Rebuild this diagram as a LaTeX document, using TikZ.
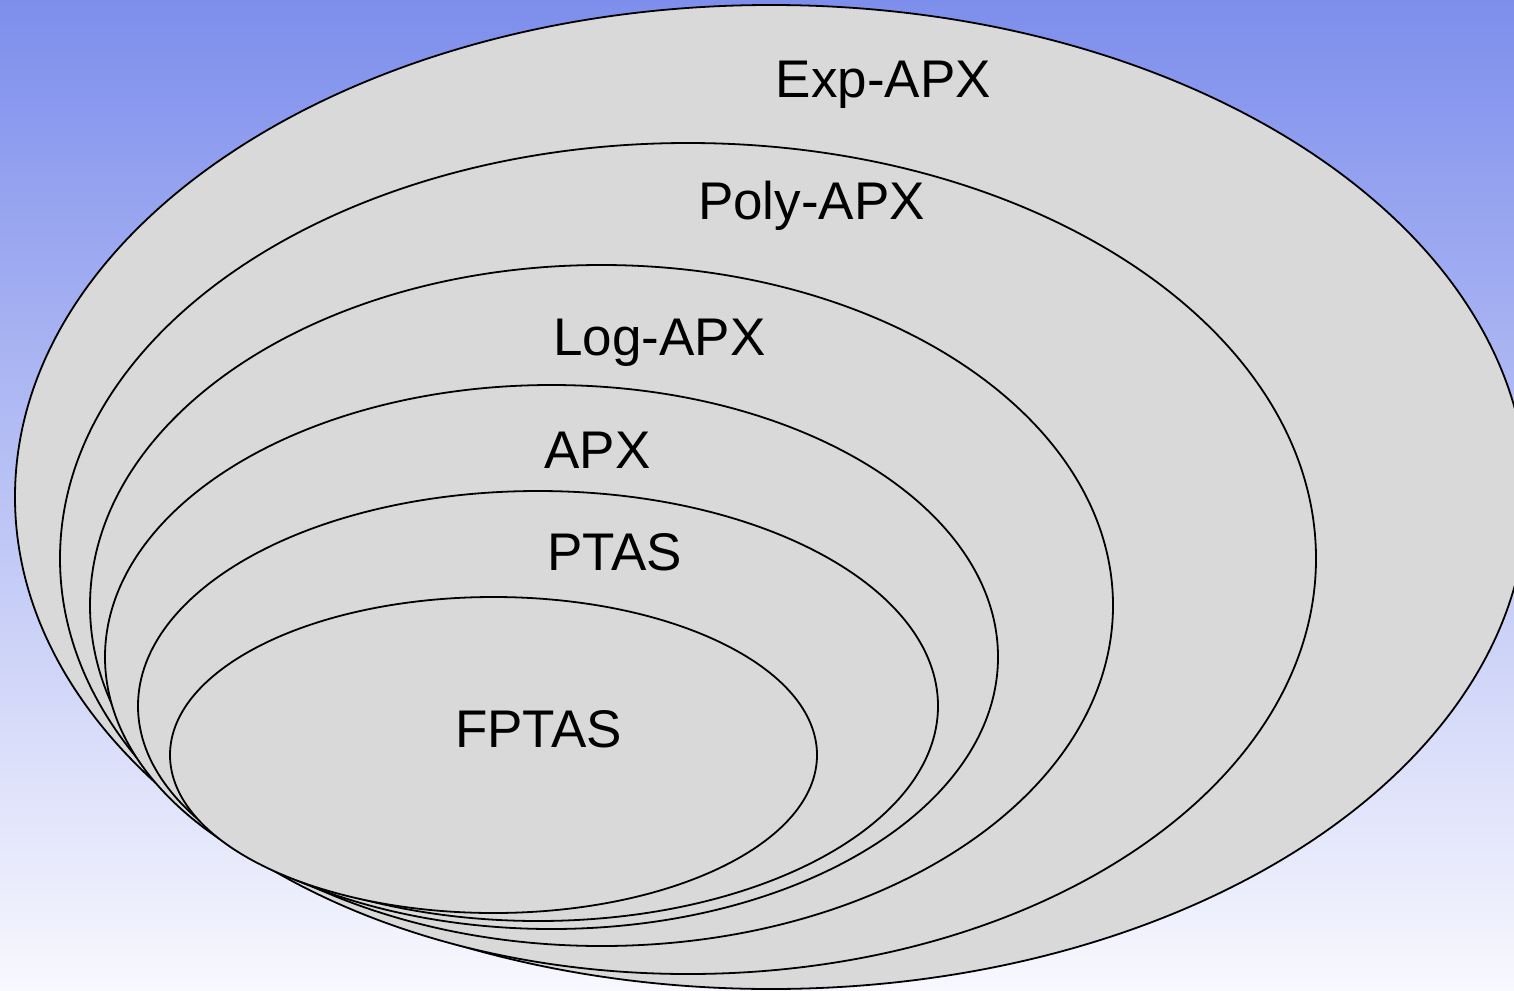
\documentclass[tikz,border=0pt]{standalone}
\usepackage{fontspec}
\setmainfont{Liberation Sans}
\definecolor{bgtop}{RGB}{125,142,236}
\definecolor{bgbot}{RGB}{248,248,254}
\definecolor{setfill}{RGB}{217,217,217}
\tikzset{
  setellipse/.style={draw=black, line width=1.8pt, fill=setfill},
  setlabel/.style={anchor=base, inner sep=0pt, font=\fontsize{53}{60}\selectfont}
}
\begin{document}
\begin{tikzpicture}[x=1pt,y=-1pt]
\useasboundingbox (0,0) rectangle (1514,990);
\shade[top color=bgtop, bottom color=bgbot] (0,0) rectangle (1514,990);
\begin{scope}
\clip (0,0) rectangle (1514,990);
\draw[setellipse] (771,497) ellipse [x radius=756pt, y radius=492pt];
\draw[setellipse] (688,558.5) ellipse [x radius=628pt, y radius=415.5pt];
\draw[setellipse] (601.5,605.5) ellipse [x radius=511.5pt, y radius=340.5pt];
\draw[setellipse] (551.5,657) ellipse [x radius=446.5pt, y radius=272pt];
\draw[setellipse] (538,706) ellipse [x radius=400pt, y radius=215pt];
\draw[setellipse] (493.5,755) ellipse [x radius=323.5pt, y radius=158pt];
\end{scope}
\node[setlabel] (exp) at (883.5,97) {Exp-APX};
\node[setlabel] (poly) at (811.5,219) {Poly-APX};
\node[setlabel] (log) at (659.5,355) {Log-APX};
\node[setlabel] (apx) at (597.5,468) {APX};
\node[setlabel] (ptas) at (614.5,570) {PTAS};
\node[setlabel] (fptas) at (538.5,747) {FPTAS};
\end{tikzpicture}
\end{document}
